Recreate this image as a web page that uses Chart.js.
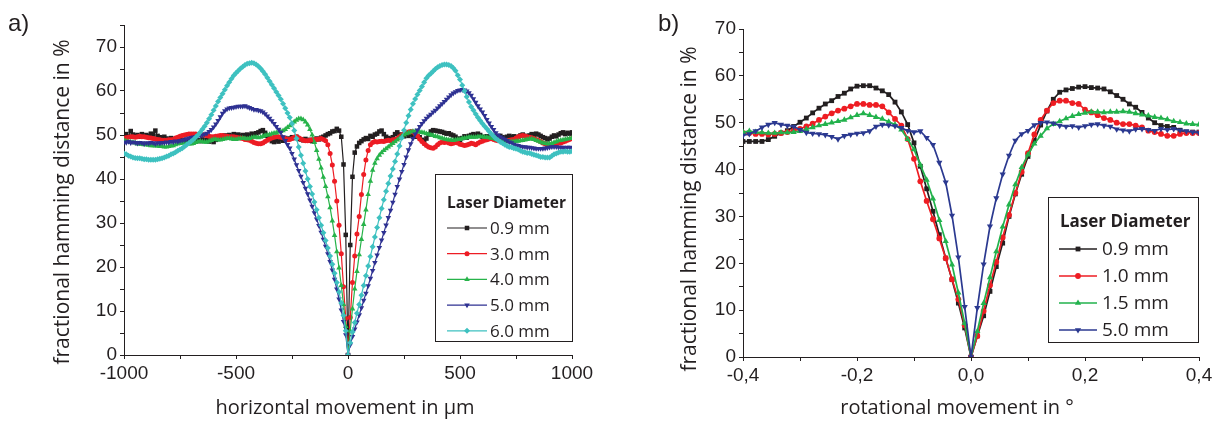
<!DOCTYPE html>
<html>
<head>
<meta charset="utf-8">
<script src="https://cdn.jsdelivr.net/npm/chart.js@4.4.1/dist/chart.umd.min.js"></script>
<style>
  html, body { margin: 0; padding: 0; background: #fff; }
  #wrap { position: relative; width: 1223px; height: 428px; overflow: hidden; }
  canvas { position: absolute; top: 0; }
  #chart-horizontal { left: 0; }
  #chart-rotational { left: 620px; }
</style>
</head>
<body>
<div id="wrap">
  <canvas id="chart-horizontal" width="600" height="428"></canvas>
  <canvas id="chart-rotational" width="603" height="428"></canvas>
</div>
<script>
// a) horizontal movement in µm, one value every 10 µm
var hmX = [
  -1000,-990,-980,-970,-960,-950,-940,-930,-920,-910,
  -900,-890,-880,-870,-860,-850,-840,-830,-820,-810,
  -800,-790,-780,-770,-760,-750,-740,-730,-720,-710,
  -700,-690,-680,-670,-660,-650,-640,-630,-620,-610,
  -600,-590,-580,-570,-560,-550,-540,-530,-520,-510,
  -500,-490,-480,-470,-460,-450,-440,-430,-420,-410,
  -400,-390,-380,-370,-360,-350,-340,-330,-320,-310,
  -300,-290,-280,-270,-260,-250,-240,-230,-220,-210,
  -200,-190,-180,-170,-160,-150,-140,-130,-120,-110,
  -100,-90,-80,-70,-60,-50,-40,-30,-20,-10,
  0,10,20,30,40,50,60,70,80,90,
  100,110,120,130,140,150,160,170,180,190,
  200,210,220,230,240,250,260,270,280,290,
  300,310,320,330,340,350,360,370,380,390,
  400,410,420,430,440,450,460,470,480,490,
  500,510,520,530,540,550,560,570,580,590,
  600,610,620,630,640,650,660,670,680,690,
  700,710,720,730,740,750,760,770,780,790,
  800,810,820,830,840,850,860,870,880,890,
  900,910,920,930,940,950,960,970,980,990,
  1000
];
var hm09 = [
  49.8,50.2,49.6,50.9,50.1,49.7,50.0,49.6,50.2,49.8,
  50.0,49.7,50.3,50.1,51.0,49.8,49.5,49.3,49.6,49.2,
  49.0,49.3,48.9,49.1,48.8,49.0,48.6,48.9,48.5,48.8,
  48.4,48.7,48.5,48.8,48.6,49.0,48.7,48.9,48.5,48.8,
  48.4,48.9,49.2,49.5,49.6,49.9,49.7,50.0,49.8,50.2,
  49.9,50.1,49.8,50.0,49.7,50.1,49.9,50.3,50.0,50.4,
  50.6,50.9,51.1,50.5,49.8,49.2,48.6,48.4,48.8,48.5,
  49.1,48.7,49.3,48.9,49.2,49.5,49.3,49.6,49.1,49.0,
  48.8,49.1,48.7,48.9,48.6,48.8,49.2,49.0,49.4,49.6,
  49.9,50.2,50.4,50.8,50.9,51.4,51.0,49.6,43.3,27.3,
  0,25.0,40.5,46.0,47.4,48.2,48.6,49.0,49.3,49.1,
  49.8,49.6,50.1,50.3,50.8,51.0,50.2,49.6,49.3,49.1,
  49.5,50.2,50.6,50.1,50.0,49.7,50.3,49.8,50.2,49.7,
  49.6,49.8,49.5,48.9,48.6,49.2,50.1,50.8,51.1,51.0,
  50.9,50.8,50.7,50.5,50.3,50.4,50.1,49.9,49.6,49.2,
  48.9,49.3,49.7,49.4,49.8,50.0,50.2,49.9,50.3,50.0,
  49.6,49.4,49.7,49.3,49.5,49.8,49.4,49.6,49.8,49.5,
  49.3,49.6,49.8,49.5,49.7,49.4,49.6,49.9,50.1,49.8,
  49.6,49.9,50.2,50.0,50.3,50.1,49.8,49.5,49.3,49.0,
  49.2,49.6,49.9,49.7,50.1,50.4,50.6,50.2,50.5,50.3,
  50.6
];
var hm30 = [
  49.2,49.4,49.5,49.6,49.6,49.5,49.6,49.7,49.6,49.6,
  49.5,49.4,49.3,49.2,49.1,49.0,48.9,48.8,48.8,48.8,
  48.9,48.9,49.0,49.3,49.5,49.7,49.9,50.0,50.1,50.2,
  50.2,50.2,50.2,50.1,50.2,50.1,50.0,49.9,49.7,49.6,
  49.6,49.7,49.8,49.9,49.9,49.8,49.7,49.6,49.6,49.6,
  49.5,49.4,49.3,49.2,49.0,48.9,48.8,48.6,48.3,48.1,
  48.0,48.0,48.2,48.5,48.8,49.1,49.3,49.5,49.6,49.6,
  49.5,49.4,49.2,49.0,49.0,49.2,49.5,49.6,49.4,49.1,
  48.8,48.7,48.7,48.8,48.9,49.0,49.0,49.1,49.2,49.0,
  48.7,47.8,45.8,43.2,39.5,35.0,29.5,23.0,15.5,8.3,
  0,8.5,16.5,22.5,27.5,31.5,36.5,41.0,44.3,46.5,
  47.8,48.3,48.5,48.4,48.5,48.6,48.5,48.7,48.8,48.7,
  48.9,49.0,49.2,49.6,50.0,50.3,50.6,50.7,50.8,50.7,
  50.3,49.8,49.1,48.5,48.0,47.6,47.3,47.1,47.0,47.3,
  47.8,48.2,48.4,48.3,48.4,48.2,48.0,48.1,48.3,48.2,
  47.9,47.8,47.6,47.7,47.9,48.1,48.0,47.8,48.1,48.4,
  48.6,48.8,48.9,49.1,49.2,49.0,48.8,48.7,48.8,48.9,
  48.8,48.7,48.8,48.9,49.0,49.3,49.6,49.8,49.9,49.8,
  49.6,49.5,49.4,49.2,49.0,48.8,48.5,48.2,48.0,47.8,
  47.7,47.8,47.9,48.0,48.1,48.2,48.4,48.6,48.8,49.0,
  49.2
];
var hm40 = [
  48.8,48.6,48.5,48.4,48.3,48.2,48.0,48.0,47.9,47.8,
  47.8,47.7,47.6,47.6,47.5,47.5,47.4,47.4,47.3,47.3,
  47.4,47.5,47.6,47.8,48.0,48.1,48.2,48.2,48.1,48.0,
  48.0,48.1,48.3,48.5,48.6,48.5,48.4,48.4,48.6,48.8,
  49.0,49.0,48.9,48.9,49.0,49.1,49.2,49.2,49.1,49.0,
  49.0,49.1,49.2,49.3,49.2,49.1,49.2,49.4,49.5,49.5,
  49.4,49.5,49.7,49.9,50.0,50.1,50.3,50.4,50.5,50.7,
  50.8,51.0,51.3,51.7,52.1,52.6,53.0,53.4,53.7,53.7,
  53.5,53.0,52.3,51.3,50.0,48.3,46.5,44.5,42.5,40.4,
  38.3,36.0,33.5,30.5,27.2,23.5,19.8,15.8,11.5,6.5,
  0,5.5,10.5,15.0,19.0,22.8,26.3,29.7,33.0,36.5,
  39.5,42.0,43.6,44.6,45.4,46.0,46.5,46.9,47.3,47.7,
  48.1,48.5,48.9,49.3,49.7,50.0,50.3,50.5,50.7,50.8,
  50.8,50.8,50.7,50.6,50.5,50.3,50.2,50.0,49.9,49.7,
  49.6,49.4,49.3,49.1,49.0,48.9,48.9,48.8,48.9,49.0,
  49.0,49.2,49.3,49.4,49.5,49.5,49.5,49.5,49.6,49.6,
  49.6,49.5,49.5,49.4,49.3,49.2,49.0,48.9,48.8,48.7,
  48.6,48.6,48.5,48.5,48.5,48.6,48.6,48.7,48.8,48.9,
  49.0,49.1,49.1,49.0,48.8,48.6,48.4,48.2,48.1,48.0,
  48.0,48.1,48.3,48.5,48.7,48.8,48.9,49.0,49.1,49.2,
  49.3
];
var hm50 = [
  48.4,48.3,48.5,48.2,48.4,48.3,48.1,48.3,48.2,48.0,
  48.2,48.1,48.3,48.2,48.0,48.2,48.1,48.3,48.2,48.4,
  48.3,48.5,48.4,48.6,48.5,48.7,48.8,48.9,49.1,49.3,
  49.4,49.5,49.6,49.8,49.9,50.0,50.2,50.4,50.8,51.2,
  51.8,52.5,53.3,54.1,54.9,55.5,55.9,56.1,56.2,56.3,
  56.4,56.5,56.5,56.5,56.6,56.4,56.2,56.0,55.8,55.8,
  55.6,55.5,55.2,54.8,54.3,53.8,53.2,52.6,51.9,51.3,
  50.6,49.6,48.7,47.8,47.0,45.8,44.5,43.2,41.9,40.6,
  39.2,37.9,36.6,35.2,33.8,32.3,30.9,29.4,27.9,26.3,
  24.7,23.0,21.2,19.3,17.2,15.0,12.7,10.2,7.6,4.6,
  0,2.3,4.2,5.9,7.5,9.1,10.7,12.4,14.0,15.7,
  17.4,19.2,21.0,22.7,24.4,26.1,27.8,29.5,31.2,32.9,
  34.7,36.5,38.3,40.0,41.7,43.3,45.0,46.6,48.0,49.2,
  50.2,51.1,51.9,52.6,53.2,53.8,54.3,54.7,55.2,55.6,
  56.1,56.6,57.1,57.6,58.1,58.6,59.1,59.5,59.8,60.1,
  60.2,60.3,60.2,60.0,59.6,59.0,58.2,57.4,56.6,55.9,
  55.2,54.4,53.5,52.7,51.9,51.2,50.5,50.0,49.6,49.3,
  49.0,48.7,48.4,48.2,47.9,47.7,47.6,47.4,47.3,47.3,
  47.2,47.2,47.1,47.0,46.9,46.9,46.9,46.9,47.0,47.1,
  47.2,47.3,47.3,47.3,47.2,47.2,47.2,47.1,47.2,47.2,
  47.1
];
var hm60 = [
  45.8,45.6,45.3,45.1,44.9,44.8,44.7,44.7,44.6,44.5,
  44.5,44.4,44.4,44.4,44.4,44.5,44.6,44.7,44.9,45.1,
  45.3,45.6,45.8,46.1,46.4,46.7,47.0,47.4,47.8,48.2,
  48.6,49.0,49.5,50.0,50.6,51.3,52.0,52.8,53.7,54.6,
  55.6,56.6,57.6,58.5,59.4,60.3,61.2,62.0,62.8,63.5,
  64.1,64.6,65.1,65.5,65.9,66.2,66.3,66.4,66.3,66.0,
  65.6,65.1,64.5,63.8,63.0,62.2,61.4,60.6,59.8,59.0,
  58.1,57.1,56.1,55.0,54.0,52.6,51.0,49.2,47.3,45.4,
  43.6,41.8,40.0,38.3,36.6,34.8,33.0,31.2,29.5,27.8,
  26.0,24.3,22.5,20.6,18.6,16.5,14.3,11.8,9.0,5.5,
  0,2.8,5.2,7.4,9.5,11.5,13.6,15.8,18.0,20.2,
  22.4,24.6,26.8,29.0,31.2,33.3,35.3,37.2,39.0,40.7,
  42.3,44.0,45.7,47.5,49.3,51.1,52.8,54.4,55.8,57.1,
  58.2,59.2,60.1,61.0,62.0,62.9,63.5,64.0,64.5,65.0,
  65.4,65.7,65.9,66.0,66.0,65.9,65.7,65.2,64.6,63.6,
  62.6,61.3,60.0,58.7,57.5,56.4,55.6,54.8,54.0,53.3,
  52.6,52.0,51.4,50.8,50.2,49.7,49.2,48.8,48.4,48.1,
  47.8,47.5,47.3,47.2,47.0,46.9,46.7,46.4,46.2,46.1,
  45.9,45.9,45.7,45.5,45.4,45.2,45.0,45.0,44.9,44.9,
  44.9,45.2,45.6,45.8,46.0,46.2,46.2,46.3,46.2,46.2,
  46.3
];

// b) rotational movement in degrees
var rmX = [
  -0.4,-0.3889,-0.3778,-0.3667,-0.3556,-0.3444,-0.3333,-0.3222,-0.3111,-0.3,
  -0.2889,-0.2778,-0.2667,-0.2556,-0.2444,-0.2333,-0.2222,-0.2111,-0.2,-0.1889,
  -0.1778,-0.1667,-0.1556,-0.1444,-0.1333,-0.1222,-0.1111,-0.1,-0.0889,-0.0778,
  -0.0667,-0.0556,-0.0444,-0.0333,-0.0222,-0.0111,0,
  0.0111,0.0222,0.0333,0.0444,0.0556,0.0667,0.0778,0.0889,0.1,0.1111,
  0.1222,0.1333,0.1444,0.1556,0.1667,0.1778,0.1889,0.2,0.2111,0.2222,
  0.2333,0.2444,0.2556,0.2667,0.2778,0.2889,0.3,0.3111,0.3222,0.3333,
  0.3444,0.3556,0.3667,0.3778,0.3889,0.4
];
var rm09 = [
  46.0,46.0,46.0,46.0,46.4,47.1,47.8,48.3,49.2,50.1,
  51.0,52.1,53.1,54.0,54.7,55.6,56.3,57.2,57.8,57.9,
  57.9,57.4,56.8,56.0,54.4,52.3,49.6,45.7,40.7,35.9,
  31.1,26.1,21.1,16.5,11.5,6.2,0,
  4.5,8.8,14.0,19.3,24.3,30.0,34.8,39.0,42.8,46.2,
  49.5,52.5,55.0,56.5,57.0,57.3,57.6,57.7,57.5,57.4,
  57.2,56.6,55.8,55.0,54.0,53.3,52.2,51.0,50.0,49.4,
  49.2,49.0,48.4,48.0,48.0,48.0
];
var rm10 = [
  47.8,47.8,47.6,47.6,47.5,47.6,47.8,48.0,48.3,48.7,
  49.2,49.8,50.6,51.3,52.0,52.6,53.0,53.5,54.0,54.0,
  53.8,53.8,53.5,52.2,50.8,49.4,46.5,42.3,37.5,33.3,
  29.4,25.3,21.1,16.6,12.3,6.8,0,
  4.5,9.8,15.3,20.3,25.5,30.3,35.0,39.5,43.5,47.5,
  50.6,52.6,54.2,54.7,54.7,54.2,54.0,52.8,52.2,51.6,
  51.0,50.6,50.0,49.7,49.7,49.4,49.0,48.3,48.0,47.6,
  47.2,47.2,47.6,47.8,47.8,47.8
];
var rm15 = [
  48.0,48.2,48.0,47.9,47.8,47.8,47.9,47.9,48.0,48.2,
  48.6,49.0,49.4,49.7,50.0,50.3,50.6,51.1,51.6,52.0,
  51.6,51.2,50.8,50.2,49.6,48.5,46.5,44.3,41.0,37.8,
  33.8,29.2,24.7,19.7,13.7,7.2,0,
  5.5,11.5,17.0,22.5,27.8,32.5,36.8,40.5,43.2,45.5,
  47.2,48.8,49.7,50.3,50.9,51.4,51.8,52.1,52.3,52.3,
  52.2,52.3,52.3,52.4,52.3,52.0,51.7,51.5,51.2,51.0,
  50.7,50.3,50.1,49.8,49.7,49.6
];
var rm50 = [
  47.3,47.6,48.2,49.0,49.6,50.0,49.6,49.4,49.2,48.5,
  47.9,47.7,47.6,47.4,47.0,46.5,47.2,47.5,47.7,47.8,
  48.2,49.2,49.6,49.5,49.3,48.9,48.3,48.0,48.2,46.8,
  45.3,41.5,37.3,30.2,21.3,10.7,0,
  10.5,19.8,27.9,33.9,39.0,43.0,46.2,47.6,48.3,49.5,
  50.0,50.1,49.9,49.4,49.2,49.3,49.0,49.3,49.6,49.7,
  49.4,49.2,48.6,48.4,48.2,48.6,48.7,48.5,48.3,48.7,
  48.5,48.7,48.4,48.2,48.0,47.9
];

var hmLabels = ['0.9 mm', '3.0 mm', '4.0 mm', '5.0 mm', '6.0 mm'];
var rmLabels = ['0.9 mm', '1.0 mm', '1.5 mm', '5.0 mm'];

var ink = '#231f20';
var tickFont = { family: 'Liberation Sans', size: 19 };

function pairs(xs, ys) {
  return ys.map(function (y, i) { return { x: xs[i], y: y }; });
}

function series(label, xs, ys, color, style, rot, radius, width, order) {
  return {
    label: label,
    data: pairs(xs, ys),
    borderColor: color,
    backgroundColor: color,
    pointBackgroundColor: color,
    pointBorderColor: color,
    pointBorderWidth: 0,
    pointStyle: style,
    pointRotation: rot,
    pointRadius: radius,
    pointHoverRadius: radius,
    borderWidth: width,
    tension: 0,
    order: order
  };
}

// marker for the legend rows, same shapes as the chart points
function marker(ctx, style, x, y, r, rot) {
  ctx.beginPath();
  if (style === 'rect') {
    var s = r * Math.SQRT1_2;
    ctx.rect(x - s, y - s, 2 * s, 2 * s);
  } else if (style === 'circle') {
    ctx.arc(x, y, r, 0, Math.PI * 2);
  } else if (style === 'triangle') {
    var a = (rot || 0) * Math.PI / 180;
    for (var k = 0; k < 3; k++) {
      var px = x + Math.sin(a) * r, py = y - Math.cos(a) * r;
      if (k === 0) ctx.moveTo(px, py); else ctx.lineTo(px, py);
      a += Math.PI * 2 / 3;
    }
    ctx.closePath();
  } else {
    ctx.moveTo(x, y - r); ctx.lineTo(x + r, y); ctx.lineTo(x, y + r); ctx.lineTo(x - r, y);
    ctx.closePath();
  }
  ctx.fill();
}

var framePlugin = {
  id: 'frame',
  afterDraw: function (chart, args, o) {
    var ctx = chart.ctx;
    ctx.save();
    ctx.fillStyle = ink;
    ctx.textAlign = 'left';
    ctx.textBaseline = 'alphabetic';
    ctx.font = '24px "Liberation Sans", Arial, sans-serif';
    ctx.fillText(o.panel, o.panelPos[0], o.panelPos[1]);

    ctx.font = o.titleSize + 'px "Open Sans", sans-serif';
    ctx.textAlign = 'center';
    ctx.textBaseline = 'middle';
    ctx.fillText(o.xTitle, o.xTitlePos[0], o.xTitlePos[1]);
    ctx.save();
    ctx.translate(o.yTitlePos[0], o.yTitlePos[1]);
    ctx.rotate(-Math.PI / 2);
    ctx.font = o.yTitleSize + 'px "Open Sans", sans-serif';
    ctx.fillText(o.yTitle, 0, 0);
    ctx.restore();

    var b = o.box;
    ctx.fillStyle = '#fff';
    ctx.fillRect(b[0], b[1], b[2], b[3]);
    ctx.strokeStyle = ink;
    ctx.lineWidth = 1;
    ctx.strokeRect(b[0] + 0.5, b[1] + 0.5, b[2], b[3]);
    ctx.fillStyle = ink;
    ctx.textAlign = 'left';
    ctx.font = 'bold ' + o.legendTitleSize + 'px "Open Sans", sans-serif';
    ctx.fillText('Laser Diameter', o.legendTitlePos[0], o.legendTitlePos[1]);
    ctx.font = o.legendSize + 'px "Open Sans", sans-serif';
    chart.data.datasets.forEach(function (ds, k) {
      var y = o.rowY + k * o.rowGap;
      ctx.strokeStyle = ds.borderColor;
      ctx.lineWidth = ds.borderWidth;
      ctx.beginPath();
      ctx.moveTo(o.lineX[0], y);
      ctx.lineTo(o.lineX[1], y);
      ctx.stroke();
      ctx.fillStyle = ds.borderColor;
      marker(ctx, ds.pointStyle, (o.lineX[0] + o.lineX[1]) / 2, y, ds.pointRadius, ds.pointRotation);
      ctx.fillStyle = ink;
      ctx.fillText(ds.label, o.textX, y + 1);
    });
    ctx.restore();
  }
};

function axis(extra) {
  var base = {
    type: 'linear',
    grid: { drawOnChartArea: false, drawTicks: true, tickLength: 4, color: ink, tickColor: ink, tickWidth: 1 },
    border: { display: true, color: ink, width: 1 },
    ticks: { color: ink, font: tickFont, autoSkip: false, maxRotation: 0, padding: 3 }
  };
  Object.keys(extra).forEach(function (k) {
    if (k === 'ticks') Object.assign(base.ticks, extra.ticks);
    else base[k] = extra[k];
  });
  return base;
}

var hmCtx = document.getElementById('chart-horizontal');
if (hmCtx) {
  new Chart(hmCtx, {
    type: 'line',
    data: {
      datasets: [
        series(hmLabels[0], hmX, hm09, '#231f20', 'rect', 0, 3.2, 1.2, 4),
        series(hmLabels[1], hmX, hm30, '#ed1c24', 'circle', 0, 2.5, 1.2, 3),
        series(hmLabels[2], hmX, hm40, '#27b34a', 'triangle', 0, 3.2, 1.2, 2),
        series(hmLabels[3], hmX, hm50, '#2e3192', 'triangle', 180, 3.2, 1.2, 1),
        series(hmLabels[4], hmX, hm60, '#3ec1c0', 'rectRot', 0, 3, 1.2, 0)
      ]
    },
    options: {
      responsive: false,
      animation: false,
      layout: { padding: { left: 0, top: 25, right: 28, bottom: 0 } },
      plugins: {
        legend: { display: false },
        tooltip: { enabled: false },
        frame: {
          panel: 'a)', panelPos: [8, 31],
          titleSize: 20, yTitleSize: 21,
          xTitle: 'horizontal movement in \u00b5m', xTitlePos: [345, 408],
          yTitle: 'fractional hamming distance in %', yTitlePos: [63, 202],
          box: [435, 174, 137, 167],
          legendTitleSize: 15.5, legendTitlePos: [447, 204],
          legendSize: 17, rowY: 228, rowGap: 25.7, lineX: [447, 487], textX: 490
        }
      },
      scales: {
        x: axis({
          min: -1000, max: 1000,
          afterFit: function (s) { s.height = 73; },
          ticks: { stepSize: 250, callback: function (v) { return v % 500 === 0 ? String(v) : ''; } }
        }),
        y: axis({
          min: 0, max: 75,
          afterFit: function (s) { s.width = 124; },
          ticks: { stepSize: 5, callback: function (v) { return v % 10 === 0 ? String(v) : ''; } }
        })
      }
    },
    plugins: [framePlugin]
  });
}

var rmCtx = document.getElementById('chart-rotational');
if (rmCtx) {
  new Chart(rmCtx, {
    type: 'line',
    data: {
      datasets: [
        series(rmLabels[0], rmX, rm09, '#231f20', 'rect', 0, 3.4, 1.7, 3),
        series(rmLabels[1], rmX, rm10, '#ee1d23', 'circle', 0, 2.9, 1.7, 2),
        series(rmLabels[2], rmX, rm15, '#22b24c', 'triangle', 0, 3.6, 1.7, 1),
        series(rmLabels[3], rmX, rm50, '#2b3990', 'triangle', 180, 3.6, 1.7, 0)
      ]
    },
    options: {
      responsive: false,
      animation: false,
      layout: { padding: { left: 0, top: 29, right: 24, bottom: 0 } },
      plugins: {
        legend: { display: false },
        tooltip: { enabled: false },
        frame: {
          panel: 'b)', panelPos: [38, 31],
          titleSize: 20, yTitleSize: 21,
          xTitle: 'rotational movement in \u00b0', xTitlePos: [337, 408],
          yTitle: 'fractional hamming distance in %', yTitlePos: [70, 209],
          box: [428, 197, 150, 145],
          legendTitleSize: 17, legendTitlePos: [440, 222],
          legendSize: 19, rowY: 249, rowGap: 27, lineX: [439, 477], textX: 482
        }
      },
      scales: {
        x: axis({
          min: -0.4, max: 0.4,
          afterFit: function (s) { s.height = 71; },
          ticks: {
            stepSize: 0.1,
            callback: function (v) {
              var t = Math.round(v * 10);
              return t % 2 === 0 ? (t / 10).toFixed(1).replace('.', ',') : '';
            }
          }
        }),
        y: axis({
          min: 0, max: 70,
          afterFit: function (s) { s.width = 123; },
          ticks: { stepSize: 5, callback: function (v) { return v % 10 === 0 ? String(v) : ''; } }
        })
      }
    },
    plugins: [framePlugin]
  });
}
</script>
</body>
</html>
